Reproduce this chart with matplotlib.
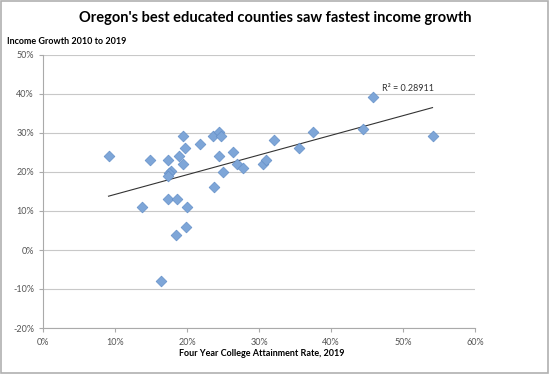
import numpy as np
import matplotlib.pyplot as plt
from matplotlib.patches import Rectangle

# Four-year college attainment rate (%) and income growth 2010-2019 (%)
attainment = [9.1, 13.7, 14.9, 17.4, 19.4, 19.7, 18.9, 19.4, 17.8, 17.5,
              17.3, 17.4, 18.6, 20.0, 19.9, 18.5, 16.4, 21.8, 23.6, 24.5,
              24.7, 24.5, 26.4, 23.8, 25.0, 26.9, 27.8, 30.5, 31.0, 32.1,
              35.5, 37.5, 45.9, 44.4, 54.1]
growth = [24.1, 10.9, 23.0, 23.0, 29.2, 26.2, 24.2, 22.0, 20.3, 19.7,
          19.1, 13.1, 13.1, 10.9, 6.0, 3.9, -8.0, 27.2, 29.2, 30.2,
          29.2, 24.1, 25.1, 16.1, 20.1, 22.0, 21.0, 22.0, 23.2, 28.2,
          26.2, 30.3, 39.2, 31.0, 29.2]
r2_text = "R² = 0.28911"

x = np.array(attainment)
y = np.array(growth)

plt.rcParams['font.family'] = ['Lato', 'DejaVu Sans']

fig = plt.figure(figsize=(5.49, 3.74), dpi=100)
ax = fig.add_axes([43/549, 46/374, 432/549, 273/374])

ax.scatter(x, y, marker='D', s=30, color='#7ea6d8', edgecolors='#6590c8',
           linewidths=0.5, zorder=3)

# linear trend line
slope, intercept = np.polyfit(x, y, 1)
xs = np.array([x.min(), x.max()])
ax.plot(xs, slope * xs + intercept, color='#333333', lw=0.8, zorder=2)
ax.text(47.1, 41.3, r2_text, fontsize=6.5, color='#333333', ha='left', va='center')

ax.set_xlim(0, 60)
ax.set_ylim(-20, 50)
ax.set_xticks(range(0, 61, 10))
ax.set_yticks(range(-20, 51, 10))
ax.set_xticklabels([f"{v}%" for v in range(0, 61, 10)])
ax.set_yticklabels([f"{v}%" for v in range(-20, 51, 10)])
ax.tick_params(labelsize=6.5, colors='#555555', length=3, width=0.8, color='#aaaaaa')
ax.tick_params(axis='x', pad=4)
ax.yaxis.grid(True, color='#c8c8c8', lw=0.8)
ax.set_axisbelow(True)
for side in ['top', 'right']:
    ax.spines[side].set_visible(False)
for side in ['left', 'bottom']:
    ax.spines[side].set_color('#aaaaaa')
    ax.spines[side].set_linewidth(0.8)

fig.text(275/549, 1 - 18/374, "Oregon's best educated counties saw fastest income growth",
         ha='center', va='center', fontsize=10.5, fontweight='bold', color='black')
fig.text(7/549, 1 - 42/374, "Income Growth 2010 to 2019", ha='left', va='center',
         fontsize=6.5, fontweight='bold')
fig.text(262/549, 1 - 353/374, "Four Year College Attainment Rate, 2019", ha='center',
         va='center', fontsize=6.5, fontweight='bold')

fig.patches.append(Rectangle((0.002, 0.003), 0.996, 0.994, transform=fig.transFigure,
                             fill=False, edgecolor='#b0b0b0', lw=1.2))

fig.savefig('out.png', dpi=100)
